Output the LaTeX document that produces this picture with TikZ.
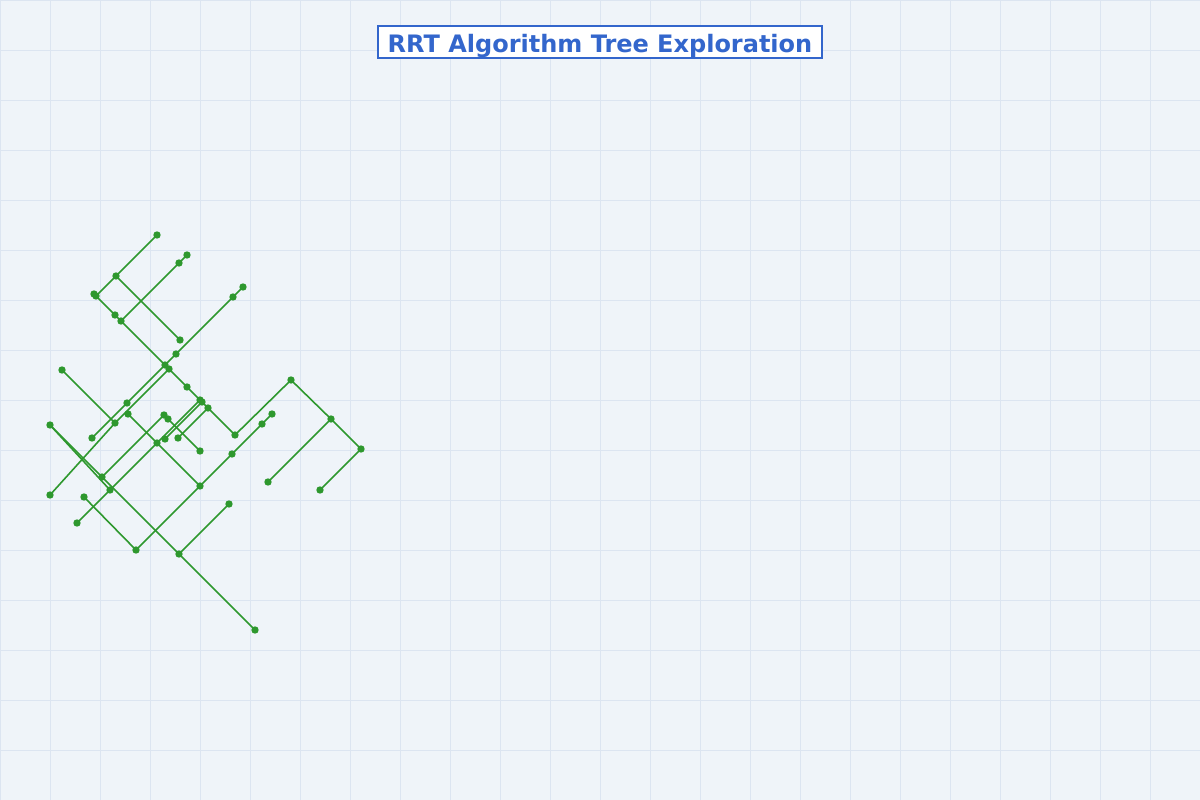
\documentclass[tikz,border=0pt]{standalone}
\usepackage{fontspec}
\setmainfont{DejaVu Sans}
\definecolor{bgcol}{HTML}{EFF4F9}
\definecolor{gridcol}{HTML}{DCE5F1}
\definecolor{treegreen}{RGB}{46,152,46}
\definecolor{titleblue}{HTML}{3366CC}
\tikzset{
  dot/.style={circle,fill=treegreen,draw=none,inner sep=0pt,minimum size=7.4pt},
  edge/.style={draw=treegreen,line width=1.6pt},
  gridline/.style={draw=gridcol,line width=0.9pt},
  titlebox/.style={draw=titleblue,fill=white,line width=1.5pt,minimum width=444pt,minimum height=32pt,inner sep=0pt},
  titletext/.style={text=titleblue,font=\fontsize{24}{28}\selectfont\bfseries,inner sep=0pt,text height=17.5pt,text depth=0pt}
}
\begin{document}
\begin{tikzpicture}[x=1pt,y=-1pt]
\fill[bgcol] (0,0) rectangle (1200,800);
\useasboundingbox (0,0) rectangle (1200,800);
\foreach \gx in {0,50,...,1150} {\draw[gridline] (\gx,0) -- (\gx,800);}
\foreach \gy in {0,50,...,750} {\draw[gridline] (0,\gy) -- (1200,\gy);}
% title
\node[titlebox] (tbox) at (600,42) {};
\node[titletext] (ttext) at (600,43.8) {RRT Algorithm Tree Exploration};
% tree nodes
\foreach \n/\px/\py in {
 A/157/235, B/116/276, C/94/294, D/96/296, E/187/255, F/179/263,
 G/243/287, H/233/297, I/115/315, J/121/321, K/180/340, L/176/354,
 M/165/365, N/169/369, O/62/370, P/187/387, Q/200/400, Q2/202/402,
 R/208/408, S/127/403, T/128/414, U/115/423, V/164/415, W/168/419,
 X/92/438, Y/165/439, Z/178/438, AA/157/443, AB/200/451, AC/235/435,
 AD/50/425, AE/232/454, AF/102/477, AG/110/490, AH/200/486, AI/50/495,
 AJ/84/497, AK/291/380, AL/331/419, AM/361/449, AN/272/414, AO/262/424,
 AP/268/482, AQ/320/490, AR/77/523, AS/136/550, AT/179/554, AU/229/504,
 AV/255/630}
 {\coordinate (\n) at (\px,\py);}
% edges
\foreach \a/\b in {
 A/B, B/D, D/C, B/K, E/F, F/J,
 D/I, I/J, J/M, M/N, N/P, P/Q, Q/Q2, Q2/R, R/AC,
 G/H, H/L, L/M, M/S, S/X,
 N/U, O/U, U/AI,
 Q/AA, AA/AG, AG/AR, T/AA, AA/AH,
 AC/AK, AK/AL, AL/AM, AL/AP, AM/AQ,
 AS/AH, AH/AE, AE/AO, AO/AN, AJ/AS,
 AD/AF, AF/AT, AT/AV, AT/AU, AD/AG,
 AF/V, V/W, W/AB, Q2/Y, R/Z}
 {\draw[edge] (\a) -- (\b);}
\foreach \n in {A,B,C,D,E,F,G,H,I,J,K,L,M,N,O,P,Q,Q2,R,S,T,U,V,W,X,Y,Z,
 AA,AB,AC,AD,AE,AF,AG,AH,AI,AJ,AK,AL,AM,AN,AO,AP,AQ,AR,AS,AT,AU,AV}
 {\node[dot] (d\n) at (\n) {};}
\end{tikzpicture}
\end{document}
